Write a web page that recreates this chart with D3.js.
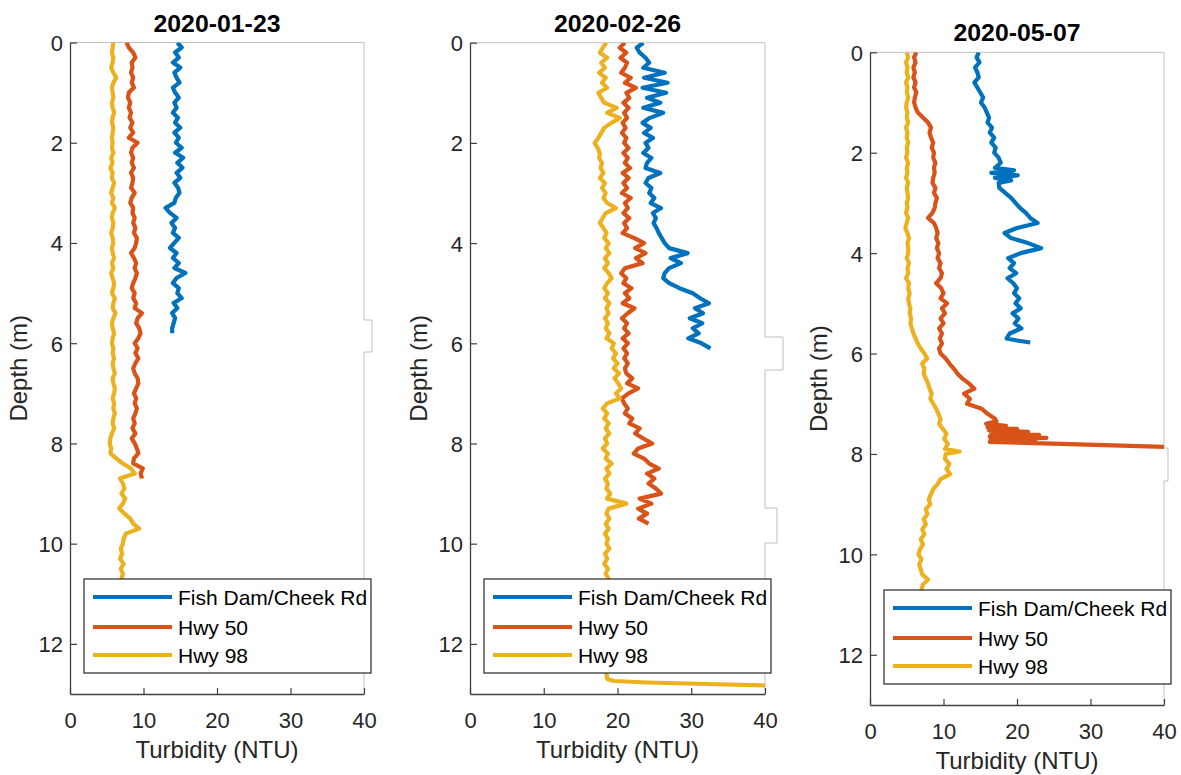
<!DOCTYPE html>
<html><head><meta charset="utf-8">
<script src="https://cdn.jsdelivr.net/npm/d3@7"></script>
<style>body{margin:0;background:#fff}svg{display:block}text{font-family:"Liberation Sans",Arial,sans-serif}</style>
</head><body>
<svg id="chart" width="1181" height="775"></svg>
<script>
// ---------- data ----------
const panelTitles = ["2020-01-23", "2020-02-26", "2020-05-07"];
const seriesNames = ["Fish Dam/Cheek Rd", "Hwy 50", "Hwy 98"];
const seriesColors = ["#0072BD", "#D95319", "#EDB120"];
const xTicks = [0, 10, 20, 30, 40];
const yTicks = [0, 2, 4, 6, 8, 10, 12];
const xLabel = "Turbidity (NTU)";
const yLabel = "Depth (m)";
const xDomain = [0, 40];
const yDomain = [0, 13];

// [depth (m), turbidity (NTU)]
const jan_fish = [[0,14.6],[0.1,15.2],[0.2,14.3],[0.3,14.8],[0.4,14.0],[0.5,15.0],[0.6,14.2],[0.7,14.5],[0.8,14.9],[0.9,14.0],[1,14.3],[1.1,14.8],[1.2,14.2],[1.3,14.5],[1.4,14.0],[1.5,14.7],[1.6,14.3],[1.7,15.0],[1.8,14.2],[1.9,14.8],[2,14.4],[2.1,15.2],[2.2,14.3],[2.3,15.4],[2.4,14.6],[2.5,15.3],[2.6,14.5],[2.7,15.0],[2.8,14.2],[2.9,14.7],[3,14.9],[3.1,14.4],[3.2,14.2],[3.3,13.0],[3.4,13.6],[3.5,14.5],[3.6,13.8],[3.7,14.3],[3.8,14.0],[3.9,14.8],[4,14.2],[4.1,13.6],[4.2,14.5],[4.3,14.0],[4.4,14.8],[4.5,14.2],[4.6,15.7],[4.7,14.5],[4.8,14.0],[4.9,14.8],[5,14.6],[5.1,15.2],[5.2,14.1],[5.3,14.6],[5.4,13.9],[5.5,14.3],[5.6,14.1],[5.7,13.9],[5.8,13.9]];
const jan_hwy50 = [[0,7.7],[0.1,8.0],[0.2,8.6],[0.3,8.9],[0.4,8.4],[0.5,8.5],[0.6,8.3],[0.7,8.6],[0.8,8.4],[0.9,8.7],[1,8.0],[1.1,7.9],[1.2,8.2],[1.3,8.0],[1.4,8.3],[1.5,8.1],[1.6,8.5],[1.7,8.2],[1.8,8.6],[1.9,8.0],[2,9.2],[2.1,8.5],[2.2,8.3],[2.3,8.6],[2.4,8.4],[2.5,8.7],[2.6,8.3],[2.7,8.6],[2.8,8.5],[2.9,8.3],[3,8.8],[3.1,8.4],[3.2,8.2],[3.3,8.6],[3.4,8.5],[3.5,8.8],[3.6,8.6],[3.7,8.9],[3.8,8.7],[3.9,9.1],[4,9.0],[4.1,8.8],[4.2,8.3],[4.3,8.7],[4.4,9.0],[4.5,8.8],[4.6,9.1],[4.7,8.9],[4.8,8.6],[4.9,8.4],[5,8.8],[5.1,8.6],[5.2,9.0],[5.3,8.8],[5.4,9.8],[5.5,9.2],[5.6,9.0],[5.7,9.4],[5.8,9.6],[5.9,9.3],[6,8.8],[6.1,9.2],[6.2,8.9],[6.3,9.3],[6.4,8.9],[6.5,8.6],[6.6,8.8],[6.7,9.2],[6.8,9.3],[6.9,9.0],[7,8.7],[7.1,9.0],[7.2,8.8],[7.3,9.1],[7.4,8.9],[7.5,8.6],[7.6,8.8],[7.7,8.5],[7.8,8.9],[7.9,8.4],[8,8.8],[8.1,9.1],[8.2,9.3],[8.3,8.7],[8.4,8.6],[8.5,9.9],[8.6,9.6],[8.7,9.8]];
const jan_hwy98 = [[0,5.9],[0.1,5.8],[0.2,5.7],[0.3,5.9],[0.4,5.8],[0.5,5.6],[0.6,5.9],[0.7,6.3],[0.8,5.9],[0.9,5.7],[1,5.8],[1.1,5.9],[1.2,5.7],[1.3,5.8],[1.4,6.0],[1.5,5.8],[1.6,5.7],[1.7,5.9],[1.8,5.8],[1.9,5.7],[2,5.8],[2.1,5.7],[2.2,5.9],[2.3,5.6],[2.4,5.8],[2.5,5.5],[2.6,5.8],[2.7,5.7],[2.8,6.0],[2.9,5.8],[3,5.6],[3.1,5.9],[3.2,5.7],[3.3,6.1],[3.4,5.8],[3.5,5.7],[3.6,5.9],[3.7,5.8],[3.8,5.6],[3.9,5.8],[4,5.9],[4.1,5.7],[4.2,5.8],[4.3,6.0],[4.4,5.7],[4.5,5.9],[4.6,5.6],[4.7,5.8],[4.8,6.0],[4.9,5.9],[5,5.7],[5.1,6.1],[5.2,5.9],[5.3,5.8],[5.4,6.2],[5.5,5.9],[5.6,5.7],[5.7,5.8],[5.8,6.0],[5.9,5.8],[6,5.7],[6.1,5.9],[6.2,5.8],[6.3,6.0],[6.4,5.8],[6.5,5.9],[6.6,6.1],[6.7,5.8],[6.8,5.9],[6.9,6.1],[7,6.0],[7.1,5.8],[7.2,6.0],[7.3,5.9],[7.4,6.1],[7.5,5.9],[7.6,5.8],[7.7,6.0],[7.8,5.7],[7.9,5.5],[8,5.4],[8.1,5.6],[8.2,5.5],[8.3,6.3],[8.4,7.2],[8.5,8.3],[8.6,8.8],[8.7,6.8],[8.8,7.2],[8.9,7.4],[9,7.0],[9.1,7.5],[9.2,7.2],[9.3,6.7],[9.4,7.4],[9.5,8.2],[9.6,8.6],[9.7,9.4],[9.8,7.6],[9.9,7.3],[10,7.2],[10.1,6.9],[10.2,7.1],[10.3,6.8],[10.4,7.3],[10.5,6.9],[10.6,7.2],[10.7,7.0],[10.8,7.1]];

const feb_fish = [[0,23.5],[0.1,22.6],[0.2,23.0],[0.3,23.8],[0.4,24.3],[0.5,23.5],[0.6,26.4],[0.7,23.6],[0.8,26.8],[0.9,23.4],[1,26.6],[1.1,24.0],[1.2,25.8],[1.3,23.5],[1.4,26.2],[1.5,24.4],[1.6,23.4],[1.7,24.5],[1.8,23.6],[1.9,24.8],[2,23.8],[2.1,24.2],[2.2,23.5],[2.3,24.6],[2.4,24.0],[2.5,23.8],[2.6,25.8],[2.7,24.2],[2.8,23.8],[2.9,24.6],[3,24.3],[3.1,25.0],[3.2,24.5],[3.3,25.9],[3.4,24.8],[3.5,25.2],[3.6,24.9],[3.7,25.3],[3.8,25.6],[3.9,26.0],[4,26.4],[4.1,27.0],[4.2,29.5],[4.3,27.2],[4.4,28.6],[4.5,27.0],[4.6,26.4],[4.7,26.2],[4.8,27.0],[4.9,28.4],[5,30.2],[5.1,31.2],[5.2,32.4],[5.3,30.5],[5.4,31.6],[5.5,29.8],[5.6,31.5],[5.7,30.2],[5.8,31.0],[5.9,29.6],[6,31.4],[6.1,32.6]];
const feb_hwy50 = [[0,21.0],[0.1,20.3],[0.2,21.2],[0.3,20.4],[0.4,21.3],[0.5,21.0],[0.6,20.5],[0.7,21.8],[0.8,21.0],[0.9,22.5],[1,21.2],[1.1,21.6],[1.2,20.8],[1.3,21.5],[1.4,20.9],[1.5,21.3],[1.6,20.7],[1.7,21.1],[1.8,20.6],[1.9,21.2],[2,20.9],[2.1,21.5],[2.2,20.8],[2.3,21.4],[2.4,21.0],[2.5,21.7],[2.6,20.7],[2.7,21.5],[2.8,20.8],[2.9,21.3],[3,20.6],[3.1,21.8],[3.2,21.0],[3.3,21.4],[3.4,20.8],[3.5,21.6],[3.6,20.9],[3.7,21.3],[3.8,20.7],[3.9,22.3],[4,23.6],[4.1,22.4],[4.2,23.8],[4.3,22.5],[4.4,23.4],[4.5,21.0],[4.6,20.5],[4.7,21.2],[4.8,20.8],[4.9,21.9],[5,21.0],[5.1,21.6],[5.2,20.7],[5.3,22.3],[5.4,21.4],[5.5,20.6],[5.6,21.3],[5.7,20.9],[5.8,21.5],[5.9,20.7],[6,21.4],[6.1,20.8],[6.2,21.3],[6.3,20.9],[6.4,21.4],[6.5,21.0],[6.6,21.2],[6.7,22.0],[6.8,21.3],[6.9,22.8],[7,21.5],[7.1,20.6],[7.2,20.9],[7.3,21.4],[7.4,21.0],[7.5,22.0],[7.6,21.6],[7.7,23.0],[7.8,22.4],[7.9,23.5],[8,24.7],[8.1,22.8],[8.2,22.2],[8.3,23.6],[8.4,24.3],[8.5,25.6],[8.6,24.0],[8.7,25.0],[8.8,24.2],[8.9,25.2],[9,25.9],[9.1,23.0],[9.2,24.6],[9.3,22.8],[9.4,24.0],[9.5,22.9],[9.6,24.2]];
const feb_hwy98 = [[0,18.5],[0.1,18.0],[0.2,17.6],[0.3,18.6],[0.4,17.8],[0.5,18.3],[0.6,17.5],[0.7,18.4],[0.8,17.9],[0.9,18.6],[1,17.4],[1.1,17.8],[1.2,18.2],[1.3,19.9],[1.4,18.6],[1.5,20.3],[1.6,19.2],[1.7,18.2],[1.8,17.8],[1.9,17.4],[2,16.9],[2.1,17.3],[2.2,17.6],[2.3,17.5],[2.4,17.9],[2.5,17.7],[2.6,18.1],[2.7,17.6],[2.8,18.3],[2.9,17.9],[3,18.4],[3.1,18.1],[3.2,18.6],[3.3,19.8],[3.4,18.4],[3.5,18.0],[3.6,17.6],[3.7,18.1],[3.8,18.5],[3.9,18.2],[4,18.8],[4.1,18.4],[4.2,18.9],[4.3,18.3],[4.4,18.7],[4.5,18.2],[4.6,18.8],[4.7,19.2],[4.8,18.6],[4.9,18.2],[5,18.7],[5.1,18.3],[5.2,18.9],[5.3,18.5],[5.4,18.8],[5.5,18.3],[5.6,18.7],[5.7,18.4],[5.8,18.9],[5.9,18.5],[6,19.5],[6.1,19.2],[6.2,19.8],[6.3,19.4],[6.4,20.0],[6.5,19.5],[6.6,20.2],[6.7,19.6],[6.8,20.1],[6.9,20.5],[7,19.8],[7.1,20.3],[7.2,18.6],[7.3,18.0],[7.4,18.6],[7.5,18.2],[7.6,18.8],[7.7,18.4],[7.8,18.9],[7.9,18.3],[8,18.6],[8.1,18.0],[8.2,18.7],[8.3,18.4],[8.4,19.2],[8.5,18.5],[8.6,18.9],[8.7,18.3],[8.8,18.7],[8.9,18.5],[9,19.0],[9.1,18.6],[9.2,21.2],[9.3,18.8],[9.4,18.5],[9.5,18.9],[9.6,18.4],[9.7,18.8],[9.8,18.3],[9.9,18.7],[10,18.5],[10.1,18.9],[10.2,18.3],[10.3,18.6],[10.4,18.2],[10.5,18.7],[10.6,18.4],[10.7,18.8],[10.8,18.5],[10.9,18.3],[11,18.6],[11.1,18.4],[11.2,18.7],[11.3,18.5],[11.4,18.4],[11.5,18.6],[11.6,18.3],[11.7,18.5],[11.8,18.6],[11.9,18.4],[12,18.5],[12.1,18.7],[12.2,18.4],[12.3,18.5],[12.4,18.6],[12.5,18.4],[12.6,18.5],[12.7,18.6],[12.74,19.5],[12.77,24],[12.8,32],[12.83,40]];

const may_fish = [[0,14.8],[0.1,14.5],[0.2,14.9],[0.3,14.3],[0.4,14.6],[0.5,14.8],[0.6,14.2],[0.7,14.6],[0.8,15.0],[0.9,15.4],[1,15.1],[1.1,15.6],[1.2,15.9],[1.3,16.2],[1.4,16.0],[1.5,16.6],[1.6,16.3],[1.7,16.9],[1.8,16.5],[1.9,17.1],[2,16.9],[2.1,17.5],[2.2,17.8],[2.3,17.0],[2.35,19.6],[2.4,16.5],[2.45,20.1],[2.5,17.0],[2.55,19.2],[2.6,17.5],[2.7,17.6],[2.8,18.4],[2.9,19.2],[3,19.8],[3.1,20.4],[3.2,21.2],[3.3,21.8],[3.4,22.8],[3.5,20.0],[3.6,18.3],[3.7,19.2],[3.8,21.5],[3.9,23.3],[4,20.5],[4.1,18.8],[4.2,19.6],[4.3,19.0],[4.4,19.9],[4.5,18.7],[4.6,19.5],[4.7,20.0],[4.8,19.6],[4.9,20.3],[5,19.8],[5.1,20.5],[5.2,19.4],[5.3,20.2],[5.4,19.7],[5.5,20.6],[5.6,19.0],[5.7,18.6],[5.74,20.0],[5.78,21.8]];
const may_hwy50 = [[0,6.3],[0.1,6.0],[0.2,6.2],[0.3,5.9],[0.4,6.1],[0.5,5.9],[0.6,6.2],[0.7,6.0],[0.8,6.3],[0.9,6.1],[1,6.0],[1.1,6.2],[1.2,6.5],[1.3,7.2],[1.4,7.9],[1.5,8.3],[1.6,8.1],[1.7,8.3],[1.8,8.6],[1.9,8.4],[2,8.7],[2.1,8.6],[2.2,8.9],[2.3,8.7],[2.4,8.8],[2.5,8.6],[2.6,8.5],[2.7,8.9],[2.8,8.7],[2.9,9.1],[3,8.9],[3.1,8.8],[3.2,8.5],[3.3,7.9],[3.4,8.7],[3.5,9.0],[3.6,9.2],[3.7,9.0],[3.8,9.3],[3.9,9.1],[4,9.4],[4.1,9.2],[4.2,9.6],[4.3,9.4],[4.4,9.8],[4.5,9.6],[4.6,9.0],[4.7,9.7],[4.8,10.0],[4.9,9.6],[5,10.5],[5.1,9.8],[5.2,10.2],[5.3,9.6],[5.4,10.0],[5.5,9.4],[5.6,9.8],[5.7,9.5],[5.8,9.8],[5.9,9.4],[6,9.6],[6.1,10.3],[6.2,10.8],[6.3,11.4],[6.4,11.9],[6.5,12.6],[6.6,13.5],[6.7,14.2],[6.8,12.8],[6.9,13.6],[7,13.2],[7.1,15.2],[7.2,16.0],[7.3,17.0],[7.35,17.2],[7.4,15.8],[7.44,18.5],[7.47,16.0],[7.5,20.0],[7.53,16.2],[7.56,21.5],[7.59,16.5],[7.62,23.0],[7.65,16.3],[7.68,24.0],[7.71,16.4],[7.74,22.5],[7.76,16.3],[7.8,26.0],[7.83,33.0],[7.86,40]];
const may_hwy98 = [[0,5.0],[0.1,5.2],[0.2,4.9],[0.3,5.1],[0.4,5.0],[0.5,5.2],[0.6,4.9],[0.7,5.1],[0.8,5.0],[0.9,5.2],[1,5.0],[1.1,4.9],[1.2,5.1],[1.3,5.0],[1.4,5.2],[1.5,4.9],[1.6,5.1],[1.7,5.0],[1.8,5.2],[1.9,5.0],[2,5.1],[2.1,4.9],[2.2,5.2],[2.3,5.0],[2.4,5.1],[2.5,4.9],[2.6,5.2],[2.7,5.0],[2.8,5.1],[2.9,5.2],[3,5.0],[3.1,5.1],[3.2,4.9],[3.3,5.2],[3.4,5.0],[3.5,4.8],[3.6,5.1],[3.7,5.3],[3.8,5.1],[3.9,5.2],[4,5.2],[4.1,5.0],[4.2,5.3],[4.3,5.1],[4.4,5.2],[4.5,4.9],[4.6,5.3],[4.7,5.2],[4.8,5.4],[4.9,5.2],[5,5.3],[5.1,5.5],[5.2,5.4],[5.3,5.6],[5.4,5.5],[5.5,5.7],[5.6,5.9],[5.7,6.2],[5.8,6.5],[5.9,6.9],[6,7.4],[6.1,7.8],[6.2,7.1],[6.3,7.4],[6.4,7.3],[6.5,7.6],[6.6,7.9],[6.7,8.1],[6.8,8.4],[6.9,8.2],[7,8.6],[7.1,9.0],[7.2,9.3],[7.3,9.6],[7.4,9.4],[7.5,9.9],[7.6,10.4],[7.7,10.1],[7.8,10.6],[7.9,10.2],[7.95,12.2],[8,10.3],[8.1,10.2],[8.2,10.8],[8.3,10.4],[8.4,10.9],[8.5,9.6],[8.6,9.2],[8.7,8.6],[8.8,8.3],[8.9,8.0],[9,8.2],[9.1,7.6],[9.2,7.8],[9.3,7.3],[9.4,7.6],[9.5,7.1],[9.6,7.4],[9.7,6.9],[9.8,7.2],[9.9,6.8],[10,6.6],[10.1,7.0],[10.2,6.7],[10.3,6.9],[10.4,7.1],[10.5,7.9],[10.6,7.2],[10.7,7.0],[10.8,6.9]];

const panelSeries = [
  [jan_fish, jan_hwy50, jan_hwy98],
  [feb_fish, feb_hwy50, feb_hwy98],
  [may_fish, may_hwy50, may_hwy98]
];

// ---------- layout ----------
const layout = [
  {left: 70,  right: 364,  top: 42.5, bottom: 694, bumps: [[320, 352, 8]]},
  {left: 470, right: 765,  top: 42.7, bottom: 694, bumps: [[337, 370, 18], [508, 543, 12]]},
  {left: 870, right: 1164, top: 52.3, bottom: 705, bumps: [[448, 481, 4]]}
];

const svg = d3.select("#chart");
svg.append("rect").attr("width", 1181).attr("height", 775).attr("fill", "#fff");
const defs = svg.append("defs");

layout.forEach((L, pi) => {
  const x = d3.scaleLinear().domain(xDomain).range([L.left, L.right]);
  const y = d3.scaleLinear().domain(yDomain).range([L.top, L.bottom]);
  const g = svg.append("g");

  // top and right frame (light grey)
  let p = `M${L.left},${L.top}H${L.right}`;
  L.bumps.forEach(b => { p += `V${b[0]}H${L.right + b[2]}V${b[1]}H${L.right}`; });
  p += `V${L.bottom}`;
  g.append("path").attr("d", p).attr("fill", "none").attr("stroke", "#bfbfbf").attr("stroke-width", 1);

  // axes
  const xAxis = d3.axisBottom(x).tickValues(xTicks).tickSize(-6).tickPadding(14).tickSizeOuter(0);
  const yAxis = d3.axisLeft(y).tickValues(yTicks).tickSize(-7).tickPadding(14).tickSizeOuter(0);
  const gx = g.append("g").attr("transform", `translate(0,${L.bottom})`).call(xAxis);
  const gy = g.append("g").attr("transform", `translate(${L.left},0)`).call(yAxis);
  [gx, gy].forEach(a => {
    a.select(".domain").attr("stroke", "#404040").attr("stroke-width", 1.3);
    a.selectAll(".tick line").attr("stroke", "#404040").attr("stroke-width", 1.2);
    a.selectAll(".tick text").attr("fill", "#262626").style("font-size", "22px")
      .style("font-family", '"Liberation Sans",Arial,sans-serif');
  });
  gx.selectAll(".tick text").attr("dy", null).attr("y", 34);
  gy.selectAll(".tick text").attr("x", -7).attr("dy", "0.36em");

  // data lines
  const clipId = "clip" + pi;
  defs.append("clipPath").attr("id", clipId).append("rect")
    .attr("x", L.left).attr("y", L.top).attr("width", L.right - L.left).attr("height", L.bottom - L.top);
  const line = d3.line().x(d => x(d[1])).y(d => y(d[0]));
  panelSeries[pi].forEach((s, si) => {
    g.append("path").datum(s).attr("d", line).attr("clip-path", `url(#${clipId})`)
      .attr("fill", "none").attr("stroke", seriesColors[si]).attr("stroke-width", 4.2)
      .attr("stroke-linejoin", "round").attr("stroke-linecap", "butt");
  });

  // title
  g.append("text").attr("x", (L.left + L.right) / 2).attr("y", L.top - 11)
    .attr("text-anchor", "middle").attr("fill", "#000").style("font-weight", "bold")
    .style("font-size", "23px").attr("textLength", 127).attr("lengthAdjust", "spacingAndGlyphs")
    .text(panelTitles[pi]);

  // axis labels
  g.append("text").attr("x", (L.left + L.right) / 2).attr("y", L.bottom + 64)
    .attr("text-anchor", "middle").attr("fill", "#262626").style("font-size", "24px").text(xLabel);
  g.append("text").attr("transform", `translate(${L.left - 43},${(L.top + L.bottom) / 2}) rotate(-90)`)
    .attr("text-anchor", "middle").attr("fill", "#262626").style("font-size", "24px").text(yLabel);

  // legend
  const lx = L.left + 14, lw = 287, lh = 94, ly = L.bottom - 21 - lh;
  const lg = g.append("g");
  lg.append("rect").attr("x", lx).attr("y", ly).attr("width", lw).attr("height", lh)
    .attr("fill", "#fff").attr("stroke", "#262626").attr("stroke-width", 1.2);
  const rows = [18, 48, 76];
  seriesNames.forEach((n, si) => {
    const ry = ly + rows[si];
    lg.append("line").attr("x1", lx + 9).attr("x2", lx + 88).attr("y1", ry).attr("y2", ry)
      .attr("stroke", seriesColors[si]).attr("stroke-width", 4.2);
    lg.append("text").attr("x", lx + 94).attr("y", ry + 7.5).attr("fill", "#000")
      .style("font-size", "21px").text(n);
  });
});
</script>
</body></html>
